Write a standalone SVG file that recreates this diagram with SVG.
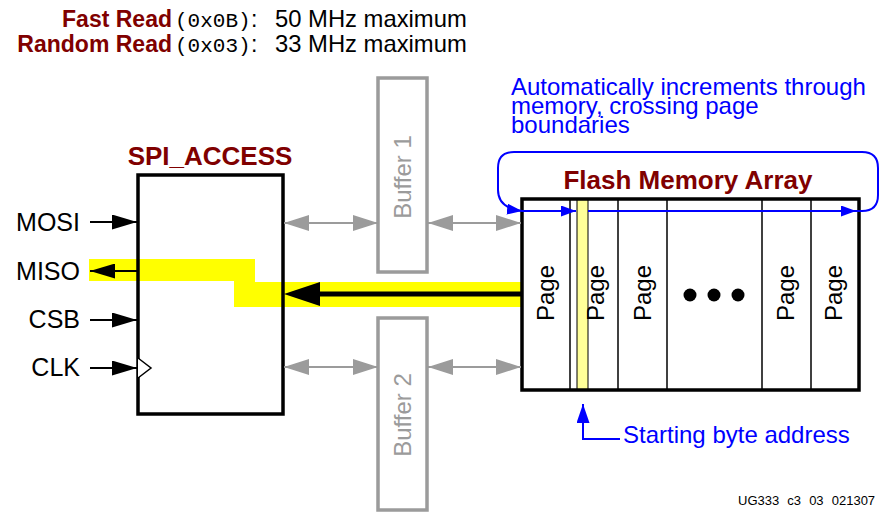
<svg xmlns="http://www.w3.org/2000/svg" width="880" height="516" viewBox="0 0 880 516">
<defs>
<style>
.t{font-family:"Liberation Sans",Arial,Helvetica,sans-serif;font-size:24px;fill:#000}
.sl{font-size:25px}
.hdr{font-family:"Liberation Sans",Arial,Helvetica,sans-serif;font-size:23px;fill:#000}
.hv{font-size:23.8px}
.hb{font-weight:bold;fill:#800000}
.title{font-family:"Liberation Sans",Arial,Helvetica,sans-serif;font-size:26px;font-weight:bold;fill:#800000}
.blue{fill:#0000ff}
.mono{font-family:"Liberation Mono","Courier New",monospace;font-size:21px;fill:#000}
.gray{stroke:#9b9b9b;stroke-width:2;fill:none}
.buf{fill:#fff;stroke:#9b9b9b;stroke-width:3.5}
.buftext{font-family:"Liberation Sans",Arial,Helvetica,sans-serif;font-size:24px;fill:#9b9b9b}
.sig{stroke:#000;stroke-width:2;fill:none}
.bl{stroke:#0000ff;stroke-width:2;fill:none}
.div{stroke:#000;stroke-width:1.5}
.box{fill:none;stroke:#000;stroke-width:3.5}
.foot{font-family:"Liberation Sans",Arial,Helvetica,sans-serif;font-size:13px;fill:#000;word-spacing:4.5px}
</style>
<marker id="ga" markerUnits="userSpaceOnUse" markerWidth="25" markerHeight="16" refX="25" refY="8" orient="auto-start-reverse" viewBox="0 0 25 16"><path d="M0,0 L25,8 L0,16 z" fill="#9b9b9b"/></marker>
<marker id="ba" markerUnits="userSpaceOnUse" markerWidth="25" markerHeight="15" refX="25" refY="7.5" orient="auto" viewBox="0 0 25 15"><path d="M0,0 L25,7.5 L0,15 z" fill="#000"/></marker>
<marker id="bigA" markerUnits="userSpaceOnUse" markerWidth="36" markerHeight="24" refX="2" refY="12" orient="auto" viewBox="0 0 36 24"><path d="M0,0 L36,12 L0,24 z" fill="#000"/></marker>
<marker id="blA" markerUnits="userSpaceOnUse" markerWidth="15" markerHeight="11" refX="15" refY="5.5" orient="auto" viewBox="0 0 15 11"><path d="M0,0 L15,5.5 L0,11 z" fill="#0000ff"/></marker>
<marker id="blB" markerUnits="userSpaceOnUse" markerWidth="19" markerHeight="13" refX="19" refY="6.5" orient="auto" viewBox="0 0 19 13"><path d="M0,0 L19,6.5 L0,13 z" fill="#0000ff"/></marker>
</defs>

<g id="header">
<text class="hdr hb" x="172" y="27" text-anchor="end">Fast Read</text>
<text class="mono" x="175" y="27">(0x0B)</text>
<text class="hdr" x="251" y="27">:</text>
<text class="hdr hv" x="275" y="27">50 MHz maximum</text>
<text class="hdr hb" x="172" y="52" text-anchor="end">Random Read</text>
<text class="mono" x="175" y="52">(0x03)</text>
<text class="hdr" x="251" y="52">:</text>
<text class="hdr hv" x="275" y="52">33 MHz maximum</text>
</g>

<g id="note-increment">
<text class="t blue" x="511" y="95">Automatically increments through</text>
<text class="t blue" x="511" y="114">memory, crossing page</text>
<text class="t blue" x="511" y="133">boundaries</text>
</g>

<g id="miso-highlight">
<polygon points="89,259 255,259 255,282 520,282 520,307 234,307 234,281 89,281" fill="#ffff00"/>
</g>

<g id="spi_access">
<text class="title" x="210" y="165" text-anchor="middle">SPI_ACCESS</text>
<rect class="box" x="138" y="175" width="145" height="239"/>
<polyline points="138,358 151,368 138,378" fill="#fff" stroke="#000" stroke-width="1.5"/>
<text class="t sl" x="80" y="231" text-anchor="end">MOSI</text>
<text class="t sl" x="80" y="280" text-anchor="end">MISO</text>
<text class="t sl" x="80" y="328" text-anchor="end">CSB</text>
<text class="t sl" x="80" y="376" text-anchor="end">CLK</text>
</g>

<g id="buffer1">
<rect class="buf" x="378" y="78" width="49" height="194"/>
<text class="buftext" transform="translate(402,177) rotate(-90)" x="0" y="8.5" text-anchor="middle">Buffer 1</text>
</g>

<g id="buffer2">
<rect class="buf" x="378" y="318" width="49" height="192"/>
<text class="buftext" transform="translate(402,415) rotate(-90)" x="0" y="8.5" text-anchor="middle">Buffer 2</text>
</g>

<g id="flash_array">
<text class="title" x="688" y="189" text-anchor="middle">Flash Memory Array</text>
<rect x="522" y="199" width="337" height="191" fill="#fff"/>
<polygon points="522,282 522,307 520,307 520,282" fill="#ffff00"/>
<rect x="577" y="199" width="11" height="191" fill="#ffff99" stroke="#000" stroke-width="1"/>
<line class="div" x1="570" y1="199" x2="570" y2="390"/>
<line class="div" x1="618" y1="199" x2="618" y2="390"/>
<line class="div" x1="667" y1="199" x2="667" y2="390"/>
<line class="div" x1="762" y1="199" x2="762" y2="390"/>
<line class="div" x1="811" y1="199" x2="811" y2="390"/>
<rect class="box" x="522" y="199" width="337" height="191"/>
<text class="t" transform="translate(545,293) rotate(-90)" x="0" y="8.5" text-anchor="middle">Page</text>
<text class="t" transform="translate(595,293) rotate(-90)" x="0" y="8.5" text-anchor="middle">Page</text>
<text class="t" transform="translate(642,293) rotate(-90)" x="0" y="8.5" text-anchor="middle">Page</text>
<text class="t" transform="translate(785,293) rotate(-90)" x="0" y="8.5" text-anchor="middle">Page</text>
<text class="t" transform="translate(833,293) rotate(-90)" x="0" y="8.5" text-anchor="middle">Page</text>
<circle cx="690" cy="295" r="6.5" fill="#000"/>
<circle cx="714" cy="295" r="6.5" fill="#000"/>
<circle cx="738" cy="295" r="6.5" fill="#000"/>
</g>

<g id="note-start">
<text class="t blue" x="623" y="443">Starting byte address</text>
</g>

<g id="connectors">
<line class="sig" x1="90" y1="222" x2="137" y2="222" marker-end="url(#ba)"/>
<line class="sig" x1="137" y1="271" x2="90" y2="271" marker-end="url(#ba)"/>
<line class="sig" x1="90" y1="320" x2="137" y2="320" marker-end="url(#ba)"/>
<line class="sig" x1="90" y1="368" x2="137" y2="368" marker-end="url(#ba)"/>
<line class="gray" x1="284" y1="223" x2="378" y2="223" marker-start="url(#ga)" marker-end="url(#ga)"/>
<line class="gray" x1="428" y1="223" x2="521" y2="223" marker-start="url(#ga)" marker-end="url(#ga)"/>
<line class="gray" x1="284" y1="367" x2="378" y2="367" marker-start="url(#ga)" marker-end="url(#ga)"/>
<line class="gray" x1="428" y1="367" x2="521" y2="367" marker-start="url(#ga)" marker-end="url(#ga)"/>
<line x1="522" y1="294" x2="318" y2="294" stroke="#000" stroke-width="5" marker-end="url(#bigA)"/>
<line class="bl" x1="522" y1="211" x2="576" y2="211" marker-end="url(#blA)"/>
<line class="bl" x1="588" y1="211" x2="856" y2="211" marker-end="url(#blA)"/>
<path class="bl" d="M856,211 H862 Q878,211 878,195 V168 Q878,152 862,152 H514 Q498,152 498,168 V190 Q498,208 522,211" marker-end="url(#blA)"/>
<path class="bl" d="M620,439 H583 V404" marker-end="url(#blB)"/>
</g>

<g id="footer">
<text class="foot" x="738" y="505">UG333 c3 03 021307</text>
</g>
</svg>
